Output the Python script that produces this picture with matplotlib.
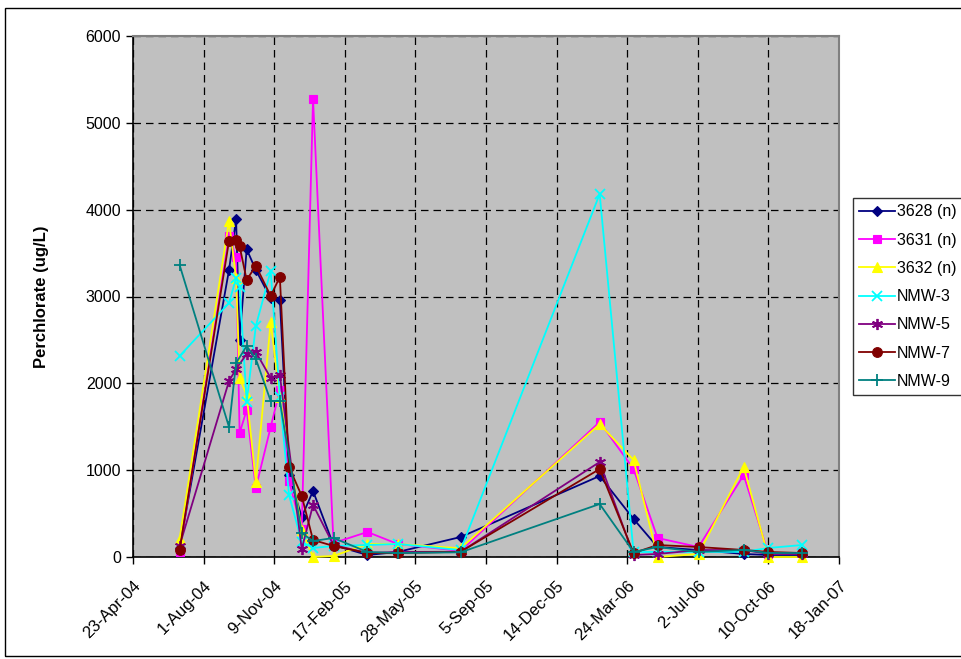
import matplotlib
matplotlib.use("Agg")
import matplotlib.pyplot as plt
from matplotlib.patches import Rectangle
from datetime import datetime

plt.rcParams['font.family'] = ['Liberation Sans', 'DejaVu Sans']

# ---- data ----
sample_dates = ["2004-06-28", "2004-09-06", "2004-09-16", "2004-09-21", "2004-10-01",
                "2004-10-14", "2004-11-04", "2004-11-17", "2004-11-30", "2004-12-18",
                "2005-01-03", "2005-02-01", "2005-03-21", "2005-05-03", "2005-07-31",
                "2006-02-13", "2006-04-02", "2006-05-06", "2006-07-03", "2006-09-05",
                "2006-10-10", "2006-11-27"]
N = None
s3628 = [100, 3305, 3890, 2500, 3545, 3305, 2980, 2965, 944, 461, 760, 138, 23, 58, 230, 933, 438, 115, 80, 35, 23, 23]
s3631 = [60, 3697, 3455, 1428, 1693, 795, 1497, 1923, 875, 322, 5275, 161, 288, 150, 70, 1555, 1013, 219, 115, 944, 35, 46]
s3632 = [207, 3870, 3210, 2060, 1866, 864, 2706, 1843, N, 311, 0, 12, 150, 150, 100, 1530, 1117, 0, 35, 1037, 0, 0]
nmw3 = [2315, 2925, 3213, 3110, 1785, 2660, 3294, 1843, 714, 173, 104, 127, 138, 150, 80, 4180, 58, 58, 58, 60, 104, 138]
nmw5 = [130, 2027, 2165, N, 2338, 2360, 2062, 2096, N, 92, 600, 138, 46, 58, 60, 1094, 23, 35, 80, 81, 35, 35]
nmw7 = [80, 3640, 3650, 3580, 3190, 3355, 3006, 3225, 1037, 703, 196, 127, 46, 46, 60, 1013, 46, 138, 115, 81, 58, 46]
nmw9 = [3363, 1497, 2234, N, 2430, 2280, 1797, 1797, N, 276, 184, 219, 58, 46, 54, 610, 58, 115, 58, 81, 46, 46]

series_names = ["3628 (n)", "3631 (n)", "3632 (n)", "NMW-3", "NMW-5", "NMW-7", "NMW-9"]
series_values = [s3628, s3631, s3632, nmw3, nmw5, nmw7, nmw9]
x_tick_labels = ["23-Apr-04", "1-Aug-04", "9-Nov-04", "17-Feb-05", "28-May-05", "5-Sep-05",
                 "14-Dec-05", "24-Mar-06", "2-Jul-06", "10-Oct-06", "18-Jan-07"]
y_ticks = [0, 1000, 2000, 3000, 4000, 5000, 6000]

# ---- styles ----
colors = ["#000080", "#FF00FF", "#FFFF00", "#00FFFF", "#800080", "#800000", "#008080"]
markers = ["D", "s", "^", "x", (6, 2, 0), "o", "+"]
msizes = [5.5, 6, 7, 7, 8, 7, 8]

fig = plt.figure(figsize=(9.62, 6.59), dpi=100)
fig.patches.append(Rectangle((5 / 962, 3 / 659), 1.0, 648 / 659, transform=fig.transFigure,
                             fill=False, edgecolor="black", linewidth=1.0))
ax = fig.add_axes([133 / 962, (659 - 557) / 659, 706 / 962, 521 / 659])
ax.set_facecolor("#C0C0C0")

dates = [datetime.strptime(d, "%Y-%m-%d") for d in sample_dates]
for name, vals, c, m, ms in zip(series_names, series_values, colors, markers, msizes):
    xs = [d for d, v in zip(dates, vals) if v is not None]
    ys = [v for v in vals if v is not None]
    ax.plot(xs, ys, color=c, marker=m, markersize=ms, linewidth=1.3,
            markeredgewidth=1.3 if m in ("x", "+") or isinstance(m, tuple) else 0.8,
            markeredgecolor=c, markerfacecolor=c, label=name, clip_on=False, zorder=3)

tick_dates = [datetime.strptime(t, "%d-%b-%y") for t in x_tick_labels]
ax.set_xlim(tick_dates[0], tick_dates[-1])
ax.set_xticks(tick_dates)
ax.set_xticklabels(x_tick_labels, rotation=45, ha="right", rotation_mode="anchor", fontsize=12)
ax.set_ylim(0, 6000)
ax.set_yticks(y_ticks)
ax.set_yticklabels([str(v) for v in y_ticks], fontsize=11.5)
ax.tick_params(axis="both", direction="out", length=5, width=1, color="black")
ax.tick_params(axis="x", pad=10)

ax.grid(True, color="black", linestyle=(0, (6, 4)), linewidth=0.9)
ax.set_axisbelow(True)
for s in ("top", "right"):
    ax.spines[s].set_color("#808080")
    ax.spines[s].set_linewidth(1.5)
for s in ("left", "bottom"):
    ax.spines[s].set_color("black")
    ax.spines[s].set_linewidth(1.2)

ax.set_ylabel("Perchlorate (ug/L)", fontsize=12, fontweight="bold", labelpad=26)

leg = fig.legend(loc="upper left", bbox_to_anchor=(853 / 962, 1 - 198 / 659),
                 fontsize=11.5, frameon=True, fancybox=False, borderpad=0.4,
                 labelspacing=0.83, handlelength=2.25, handletextpad=0.1, borderaxespad=0)
leg.get_frame().set_edgecolor("black")
leg.get_frame().set_linewidth(1.0)

fig.savefig("out.png", dpi=100, facecolor="white")
